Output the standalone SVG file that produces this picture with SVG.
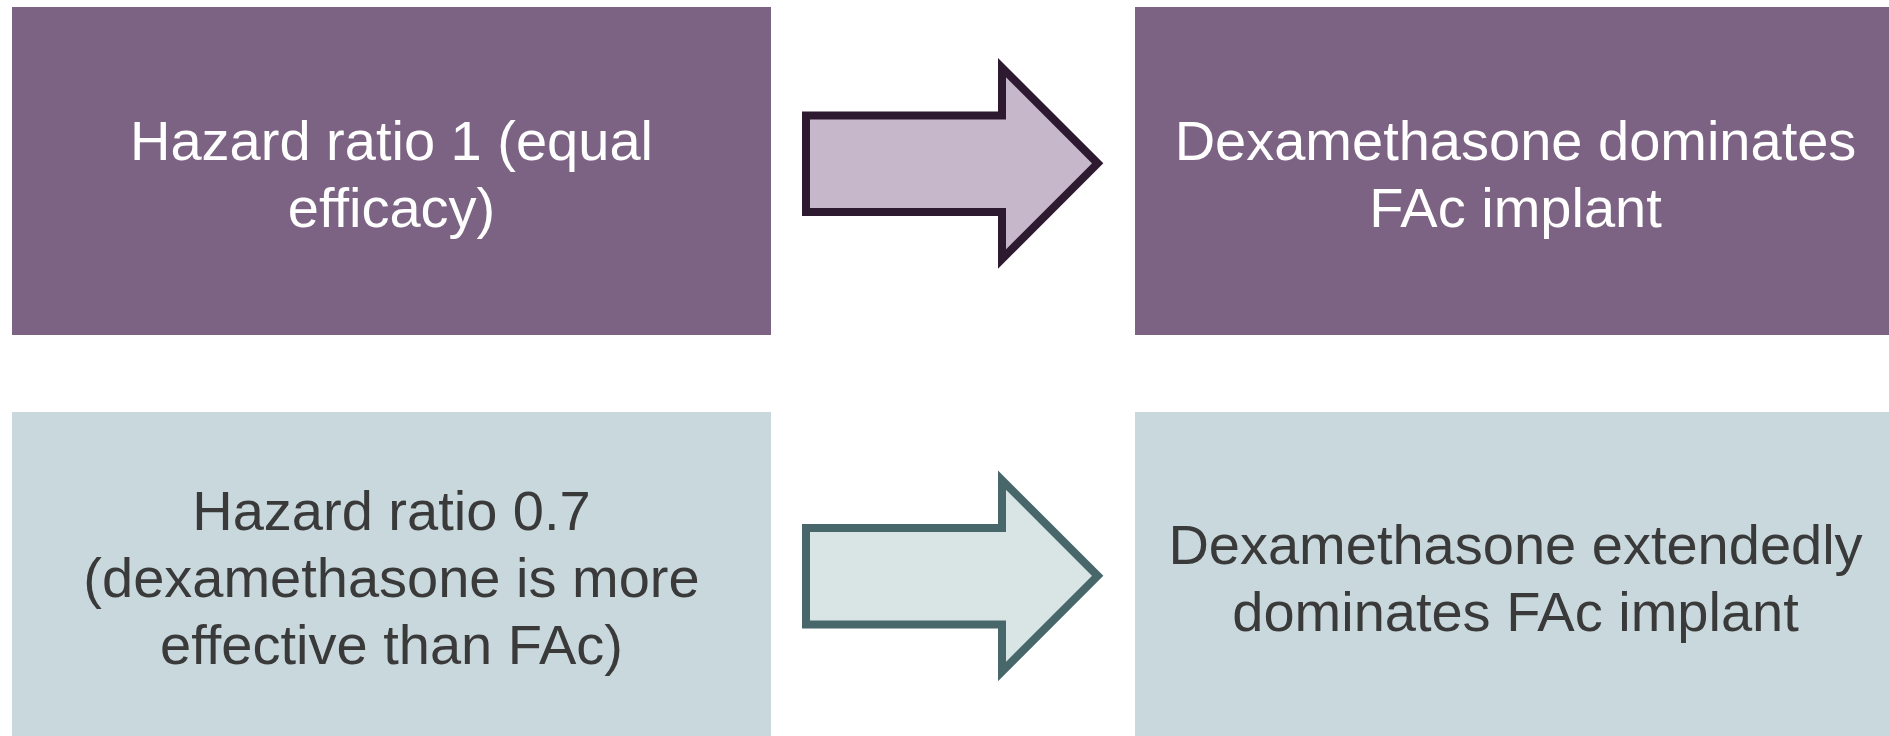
<svg xmlns="http://www.w3.org/2000/svg" width="1889" height="736" viewBox="0 0 1889 736">
<style>
.t{font-family:"Liberation Sans",Arial,sans-serif;font-size:56px;text-anchor:middle}
.w{fill:#ffffff}
.d{fill:#3a3a3a}
.bp{fill:#7d6383}
.bb{fill:#c8d8dc}
.ap{fill:#c6b7cb;stroke:#2d1a30;stroke-width:8;stroke-miterlimit:10}
.ab{fill:#d9e5e5;stroke:#47676b;stroke-width:8;stroke-miterlimit:10}
</style>
<defs>
<path id="arr" d="M806,115.5 H1002 V67.6 L1097.7,163.3 L1002,259 V212 H806 Z"/>
</defs>
<rect width="1889" height="736" fill="#ffffff"/>
<g id="node-hr1">
<rect class="bp" x="12" y="7" width="759" height="328"/>
<text class="t w" x="391.5" y="160">Hazard ratio 1 (equal</text>
<text class="t w" x="391.5" y="227">efficacy)</text>
</g>
<g id="node-dom">
<rect class="bp" x="1135" y="7" width="754" height="328"/>
<text class="t w" x="1515.5" y="160">Dexamethasone dominates</text>
<text class="t w" x="1515.5" y="227">FAc implant</text>
</g>
<g id="node-hr07">
<rect class="bb" x="12" y="412" width="759" height="324"/>
<text class="t d" x="391.5" y="530">Hazard ratio 0.7</text>
<text class="t d" x="391.5" y="597">(dexamethasone is more</text>
<text class="t d" x="391.5" y="664">effective than FAc)</text>
</g>
<g id="node-extdom">
<rect class="bb" x="1135" y="412" width="754" height="324"/>
<text class="t d" x="1515.5" y="564">Dexamethasone extendedly</text>
<text class="t d" x="1515.5" y="631">dominates FAc implant</text>
</g>
<g id="connectors">
<use href="#arr" class="ap"/>
<use href="#arr" class="ab" transform="translate(0,412.5)"/>
</g>
</svg>
